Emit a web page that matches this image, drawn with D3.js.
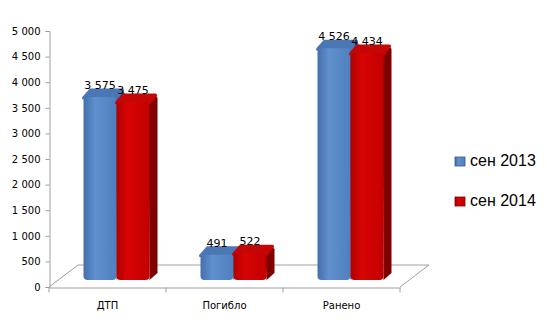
<!DOCTYPE html>
<html>
<head>
<meta charset="utf-8">
<script src="https://cdn.jsdelivr.net/npm/d3@7"></script>
<style>
  body { margin: 0; background: #fff; }
  text { font-family: "DejaVu Sans", Verdana, sans-serif; fill: #000; }
</style>
</head>
<body>
<div class="canvas"></div>
<script>
const categories = ["ДТП", "Погибло", "Ранено"];
const seriesNames = ["сен 2013", "сен 2014"];
const values2013 = [3575, 491, 4526];
const values2014 = [3475, 522, 4434];
const yTicks = [0, 500, 1000, 1500, 2000, 2500, 3000, 3500, 4000, 4500, 5000];

const width = 547;
const height = 323;
const plot = { left: 49, right: 400, top: 31, bottom: 287 };
const depth = { dx: 29, dy: 22 };     // floor depth
const barOff = { dx: 9, dy: 7 };      // front face of bars inside floor
const barDepth = { dx: 8, dy: 7 };    // thickness of each bar

const colors = [
  { front: ["#4470ab", "#6190cf", "#4f7fbd"], side: "#33598c", top: "#4a78b4" },
  { front: ["#b00000", "#d80404", "#c20000"], side: "#800000", top: "#c40606" }
];

const fmt = d3.formatLocale({ decimal: ",", thousands: " ", grouping: [3], currency: ["", ""] }).format(",d");

const svg = d3.select(".canvas").append("svg")
  .attr("width", width)
  .attr("height", height);

const defs = svg.append("defs");
colors.forEach((c, i) => {
  const g = defs.append("linearGradient").attr("id", "front" + i)
    .attr("x1", 0).attr("x2", 1).attr("y1", 0).attr("y2", 0);
  g.append("stop").attr("offset", "0%").attr("stop-color", c.front[0]);
  g.append("stop").attr("offset", "35%").attr("stop-color", c.front[1]);
  g.append("stop").attr("offset", "100%").attr("stop-color", c.front[2]);
});

const y = d3.scaleLinear().domain([0, 5000]).range([plot.bottom, plot.top]);
const x = d3.scaleBand().domain(categories).range([plot.left, plot.right]);
const groupW = 66;
const xs = d3.scaleBand().domain(seriesNames).range([0, groupW]);

// floor
const floor = svg.append("g");
floor.append("path")
  .attr("d", `M${plot.left},${plot.bottom} L${plot.left + depth.dx},${plot.bottom - depth.dy} L${plot.right + depth.dx},${plot.bottom - depth.dy} L${plot.right},${plot.bottom}`)
  .attr("fill", "none")
  .attr("stroke", "#a0a0a0")
  .attr("stroke-width", 1);

// value axis
const yAxis = d3.axisLeft(y).tickValues(yTicks).tickFormat(fmt).tickSize(4).tickPadding(5);
const yAxisGroup = svg.append("g")
  .attr("transform", `translate(${plot.left + 0.5},0)`)
  .call(yAxis);
yAxisGroup.selectAll("text").style("font-size", "10px");
yAxisGroup.selectAll("line, path").attr("stroke", "#a0a0a0");

// category axis
const xAxis = d3.axisBottom(x).tickSize(0).tickPadding(14);
const xAxisGroup = svg.append("g")
  .attr("transform", `translate(0,${plot.bottom + 0.5})`)
  .call(xAxis);
xAxisGroup.selectAll("text").style("font-size", "10px");
xAxisGroup.select("path").attr("stroke", "#a0a0a0");
xAxisGroup.selectAll(".sep")
  .data(categories.map(c => x(c)).concat([plot.right]))
  .enter().append("line")
  .attr("x1", d => d).attr("x2", d => d)
  .attr("y1", 0).attr("y2", 5)
  .attr("stroke", "#a0a0a0");

// bars
const data = [];
categories.forEach((c, i) => {
  [values2013[i], values2014[i]].forEach((v, s) => data.push({ cat: c, s, v }));
});

const bars = svg.append("g").selectAll("g").data(data).enter().append("g");
const base = plot.bottom - barOff.dy;
const bx0 = d => x(d.cat) + x.bandwidth() / 2 + barOff.dx - groupW / 2 + xs(seriesNames[d.s]);
const bx1 = d => bx0(d) + xs.bandwidth();
const btop = d => y(d.v) - barOff.dy;

bars.append("path")
  .attr("d", d => `M${bx1(d) - 1},${btop(d)} L${bx1(d) + barDepth.dx - 2},${btop(d) - barDepth.dy} L${bx1(d) + barDepth.dx},${btop(d) - barDepth.dy + 3} L${bx1(d) + barDepth.dx},${base - barDepth.dy} L${bx1(d)},${base} Z`)
  .attr("fill", d => colors[d.s].side);

bars.append("path")
  .attr("d", d => `M${bx0(d)},${btop(d) + 1} L${bx0(d) + barDepth.dx - 1},${btop(d) - barDepth.dy} L${bx1(d) + barDepth.dx - 2},${btop(d) - barDepth.dy} L${bx1(d)},${btop(d) + 1} Z`)
  .attr("fill", d => colors[d.s].top)
  .attr("stroke", d => colors[d.s].top)
  .attr("stroke-linejoin", "round")
  .attr("stroke-width", 3);

bars.append("rect")
  .attr("x", bx0)
  .attr("y", btop)
  .attr("width", xs.bandwidth())
  .attr("height", d => base - btop(d))
  .attr("rx", 4)
  .attr("fill", d => `url(#front${d.s})`);

bars.append("text")
  .attr("x", d => (bx0(d) + bx1(d)) / 2)
  .attr("y", d => btop(d) - 8)
  .attr("text-anchor", "middle")
  .style("font-size", "11px")
  .text(d => fmt(d.v));

// legend
const legend = svg.append("g").selectAll("g").data(seriesNames).enter().append("g")
  .attr("transform", (d, i) => `translate(455,${157 + i * 40})`);
legend.append("rect")
  .attr("width", 10).attr("height", 9)
  .attr("fill", (d, i) => `url(#front${i})`)
  .attr("stroke", (d, i) => colors[i].side)
  .attr("stroke-width", 0.8);
legend.append("text")
  .attr("x", 15).attr("y", 9)
  .style("font-family", "'Liberation Sans', Arial, sans-serif")
  .style("font-size", "16px")
  .text(d => d);
</script>
</body>
</html>
